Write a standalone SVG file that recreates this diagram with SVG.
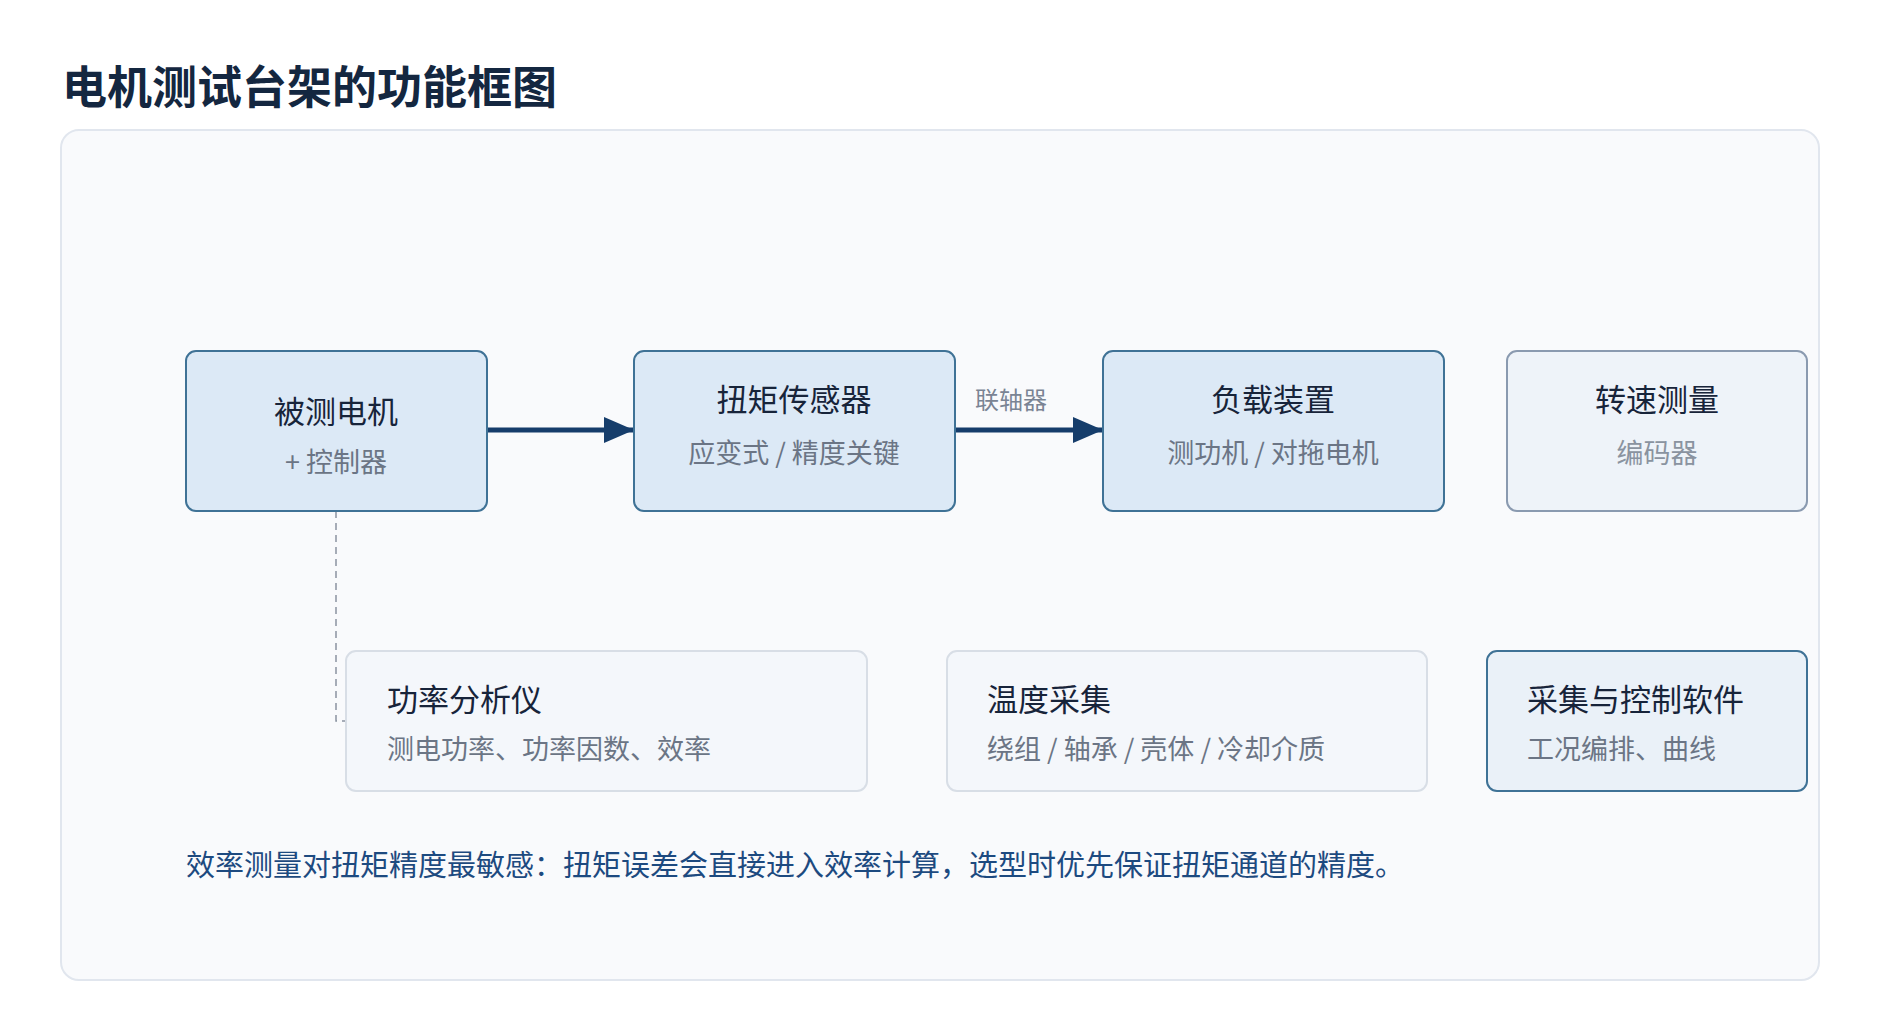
<svg xmlns="http://www.w3.org/2000/svg" width="1880" height="1036" viewBox="0 0 1880 1036">
<style>
text{font-family:"Noto Sans CJK SC","Noto Sans",sans-serif}
.t{font-size:31px;fill:#17243a}
.s{font-size:27px;fill:#6b7585}
.main{fill:#dce9f6;stroke:#3f7296;stroke-width:2}
.lite{fill:#f4f7fb;stroke:#d8dee6;stroke-width:2}
.gray{fill:#eef3f9;stroke:#8a9ab0;stroke-width:2}
.sw{fill:#eaf1f8;stroke:#3f7296;stroke-width:2}
</style>
<defs><marker id="a" markerWidth="30" markerHeight="26" refX="30" refY="13" orient="auto" markerUnits="userSpaceOnUse"><path d="M0,0L30,13L0,26z" fill="#163d6b"/></marker></defs>
<rect width="1880" height="1036" fill="#fff"/>
<text x="62" y="104" style="font-size:45px;font-weight:700;fill:#142740">电机测试台架的功能框图</text>
<rect x="61" y="130" width="1758" height="850" rx="18" fill="#f9fafc" stroke="#e1e6ee" stroke-width="2"/>
<g id="connectors">
<line x1="487" y1="430" x2="634" y2="430" stroke="#163d6b" stroke-width="5" marker-end="url(#a)"/>
<line x1="955" y1="430" x2="1103" y2="430" stroke="#163d6b" stroke-width="5" marker-end="url(#a)"/>
<text x="1011" y="409" text-anchor="middle" style="font-size:24px;fill:#7a8494">联轴器</text>
<polyline points="336,511 336,721 346,721" fill="none" stroke="#8a93a0" stroke-width="1.5" stroke-dasharray="7,5"/>
</g>
<g id="n1"><rect class="main" x="186" y="351" width="301" height="160" rx="10"/>
<text class="t" x="336" y="423" text-anchor="middle">被测电机</text>
<text class="s" x="336" y="472" text-anchor="middle">+ 控制器</text></g>
<g id="n2"><rect class="main" x="634" y="351" width="321" height="160" rx="10"/>
<text class="t" x="794" y="411" text-anchor="middle">扭矩传感器</text>
<text class="s" x="794" y="463" text-anchor="middle">应变式 / 精度关键</text></g>
<g id="n3"><rect class="main" x="1103" y="351" width="341" height="160" rx="10"/>
<text class="t" x="1273" y="411" text-anchor="middle">负载装置</text>
<text class="s" x="1273" y="463" text-anchor="middle">测功机 / 对拖电机</text></g>
<g id="n4"><rect class="gray" x="1507" y="351" width="300" height="160" rx="10"/>
<text class="t" x="1657" y="411" text-anchor="middle">转速测量</text>
<text class="s" x="1657" y="463" text-anchor="middle" style="fill:#8a93a0">编码器</text></g>
<g id="n5"><rect class="lite" x="346" y="651" width="521" height="140" rx="10"/>
<text class="t" x="387" y="711">功率分析仪</text>
<text class="s" x="387" y="759">测电功率、功率因数、效率</text></g>
<g id="n6"><rect class="lite" x="947" y="651" width="480" height="140" rx="10"/>
<text class="t" x="987" y="711">温度采集</text>
<text class="s" x="987" y="759">绕组 / 轴承 / 壳体 / 冷却介质</text></g>
<g id="n7"><rect class="sw" x="1487" y="651" width="320" height="140" rx="10"/>
<text class="t" x="1527" y="711">采集与控制软件</text>
<text class="s" x="1527" y="759">工况编排、曲线</text></g>
<text x="186" y="876" style="font-size:29px;fill:#1d4a80">效率测量对扭矩精度最敏感：扭矩误差会直接进入效率计算，选型时优先保证扭矩通道的精度。</text>
</svg>
